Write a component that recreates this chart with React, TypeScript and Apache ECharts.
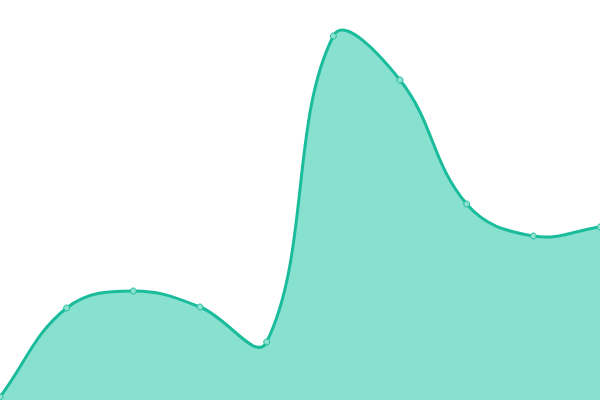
import React, { useEffect, useRef } from "react";
import * as echarts from "echarts";

const categories = ["1", "2", "3", "4", "5", "6", "7", "8", "9", "10"];
const values = [3, 92, 109, 93, 58, 364, 320, 196, 164, 173];
const yMin = 0;
const yMax = 400;
const tension = 0.4;

export default function App() {
  const ref = useRef<HTMLDivElement>(null);
  useEffect(() => {
    document.body.style.margin = "0";
    const chart = echarts.init(ref.current!, null, { renderer: "svg" });
    const renderItem = (params: any, api: any) => {
      if (params.dataIndex !== 0) return null;
      const pts: number[][] = values.map((v, i) => api.coord([i, v]));
      const base = api.coord([0, yMin])[1];
      const n = pts.length;
      const cpPrev: number[][] = [];
      const cpNext: number[][] = [];
      for (let i = 0; i < n; i++) {
        const prev = pts[i - 1] || pts[i];
        const cur = pts[i];
        const next = pts[i + 1] || pts[i];
        const d01 = Math.hypot(cur[0] - prev[0], cur[1] - prev[1]);
        const d12 = Math.hypot(next[0] - cur[0], next[1] - cur[1]);
        let s01 = d01 / (d01 + d12);
        let s12 = d12 / (d01 + d12);
        if (!isFinite(s01)) s01 = 0;
        if (!isFinite(s12)) s12 = 0;
        const fa = tension * s01;
        const fb = tension * s12;
        cpPrev.push([cur[0] - fa * (next[0] - prev[0]), cur[1] - fa * (next[1] - prev[1])]);
        cpNext.push([cur[0] + fb * (next[0] - prev[0]), cur[1] + fb * (next[1] - prev[1])]);
      }
      let d = `M${pts[0][0]},${pts[0][1]}`;
      for (let i = 0; i < n - 1; i++) {
        d += ` C${cpNext[i][0]},${cpNext[i][1]} ${cpPrev[i + 1][0]},${cpPrev[i + 1][1]} ${pts[i + 1][0]},${pts[i + 1][1]}`;
      }
      const area = d + ` L${pts[n - 1][0]},${base} L${pts[0][0]},${base} Z`;
      return {
        type: "group",
        children: [
          { type: "path", shape: { pathData: area }, style: { fill: "#88e0cf" } },
          {
            type: "path",
            shape: { pathData: d },
            style: { fill: "none", stroke: "#1abc9c", lineWidth: 3 },
          },
        ],
      };
    };
    chart.setOption({
      animation: false,
      grid: { left: 0, right: 0, top: 0, bottom: 0 },
      xAxis: {
        type: "category",
        data: categories,
        boundaryGap: false,
        show: false,
      },
      yAxis: { type: "value", min: yMin, max: yMax, show: false },
      series: [
        {
          type: "custom",
          data: values.map((v, i) => [i, v]),
          encode: { x: 0, y: 1 },
          renderItem,
          z: 1,
        },
        {
          type: "scatter",
          data: values,
          symbol: "circle",
          symbolSize: 6,
          itemStyle: { color: "#8ee0cf", borderColor: "#1abc9c", borderWidth: 1, opacity: 1 },
          z: 2,
        },
      ],
    });
    return () => chart.dispose();
  }, []);
  return (
    <div
      ref={ref}
      style={{ position: "fixed", left: 0, top: 0, width: 600, height: 400 }}
    />
  );
}
